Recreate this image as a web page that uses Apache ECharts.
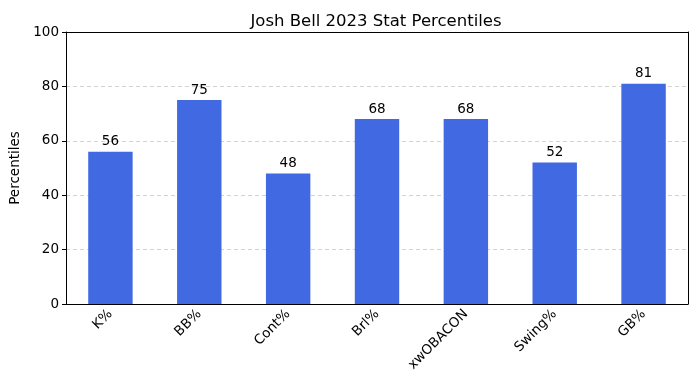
<!DOCTYPE html>
<html><head><meta charset="utf-8">
<script src="https://cdn.jsdelivr.net/npm/echarts@6/dist/echarts.min.js"></script>
<style>html,body{margin:0;padding:0;background:#fff}#c{width:695px;height:390px}</style>
</head><body><div id="c"></div>
<script>
const categories = ['K%', 'BB%', 'Cont%', 'Brl%', 'xwOBACON', 'Swing%', 'GB%'];
const values = [56, 75, 48, 68, 68, 52, 81];
const yTicks = [0, 20, 40, 60, 80, 100];

const chart = echarts.init(document.getElementById('c'), null, {renderer: 'canvas'});
const font = 'DejaVu Sans';
chart.setOption({
  animation: false,
  backgroundColor: '#fff',
  title: {
    text: 'Josh Bell 2023 Stat Percentiles',
    left: 371, top: 8, textAlign: 'center',
    textStyle: {fontFamily: font, fontSize: 16.5, fontWeight: 'normal', color: '#000'}
  },
  grid: {left: 66, top: 32, width: 622, height: 272},
  xAxis: [{
    type: 'category', data: categories, z: 10,
    axisLine: {onZero: false, lineStyle: {color: '#000', width: 1}},
    axisTick: {alignWithLabel: true, length: 4, lineStyle: {color: '#000'}},
    axisLabel: {rotate: 45, fontFamily: font, fontSize: 13.5, color: '#000', margin: 8, interval: 0},
    splitLine: {show: false}
  }, {
    type: 'category', data: categories, position: 'top', z: 10,
    axisLine: {show: true, onZero: false, lineStyle: {color: '#000', width: 1}},
    axisTick: {show: false}, axisLabel: {show: false}, splitLine: {show: false}
  }],
  yAxis: [{
    type: 'value', min: 0, max: 100, interval: 20, z: 1,
    name: 'Percentiles', nameLocation: 'middle', nameGap: 44,
    nameTextStyle: {fontFamily: font, fontSize: 13.5, color: '#000'},
    axisLine: {show: true, onZero: false, lineStyle: {color: '#000', width: 1}},
    axisTick: {show: true, length: 4, lineStyle: {color: '#000'}},
    axisLabel: {fontFamily: font, fontSize: 13.5, color: '#000', margin: 7},
    splitLine: {show: true, lineStyle: {type: [4, 3], color: '#c8c8c8', width: 0.8}}
  }, {
    type: 'value', min: 0, max: 100, position: 'right', z: 10,
    axisLine: {show: true, onZero: false, lineStyle: {color: '#000', width: 1}},
    axisTick: {show: false}, axisLabel: {show: false}, splitLine: {show: false}
  }],
  series: [{
    type: 'bar', data: values, barWidth: '50%', z: 5,
    itemStyle: {color: '#4169E1'},
    label: {show: true, position: 'top', distance: 3, fontFamily: font, fontSize: 13.5, color: '#000'}
  }]
});
</script></body></html>
